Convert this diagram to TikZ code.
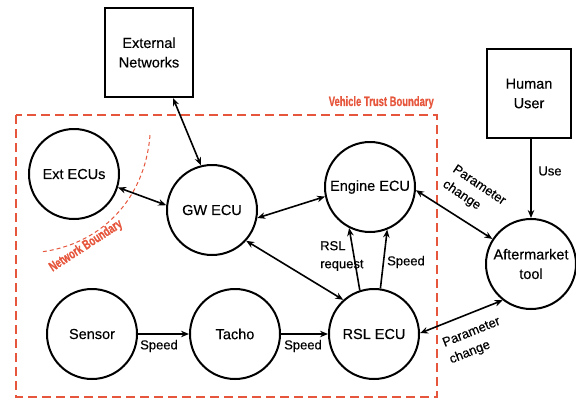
\documentclass[tikz,border=0pt]{standalone}
\usepackage{fontspec}
\setmainfont[FakeBold=0.35]{Liberation Sans}
\newfontfamily\condfont[FakeStretch=0.7,FakeBold=0.6]{Liberation Sans Bold}
\usetikzlibrary{arrows.meta}
\definecolor{bnd}{RGB}{230,86,60}
\begin{document}
\begin{tikzpicture}[x=1pt,y=-1pt,
  nodefont/.style={font=\fontsize{14.5}{19.5}\selectfont},
  ecu/.style={circle,draw,line width=2pt,minimum size=90pt,inner sep=0pt,align=center,nodefont},
  boxnode/.style={rectangle,draw,line width=2pt,align=center,nodefont,inner sep=0pt},
  conn/.style={line width=1.6pt,-{Stealth[length=8pt,width=6.5pt]}},
  biconn/.style={line width=1.6pt,{Stealth[length=8pt,width=6.5pt]}-{Stealth[length=8pt,width=6.5pt]}},
  lbl/.style={font=\fontsize{13}{18}\selectfont,inner sep=0pt},
  bndlbl/.style={font=\condfont\fontsize{13.5}{15}\selectfont,text=bnd,inner sep=0pt}
]
\useasboundingbox (0,0) rectangle (576,400);

% boundaries
\draw[bnd,line width=2.5pt,dash pattern=on 9pt off 5pt] (16,115) rectangle (437,397);
\draw[bnd,line width=1pt,dash pattern=on 4pt off 3pt] (150,135) .. controls (145,200) and (100,245) .. (40,252);
\node[bndlbl,anchor=east] (vtb) at (434,102.5) {Vehicle Trust Boundary};
\node[bndlbl,rotate=33] (nb) at (86,246) {Network Boundary};

% boxes
\node[boxnode,minimum width=88pt,minimum height=89pt] (ext) at (149,52.5) {External\\Networks};
\node[boxnode,minimum width=84pt,minimum height=89pt] (human) at (529,93.5) {Human\\User};

% circles
\node[ecu] (extecu) at (74,174) {Ext ECUs};
\node[ecu] (gw) at (212,210) {GW ECU};
\node[ecu] (eng) at (370,187) {Engine ECU};
\node[ecu] (rsl) at (374,334) {RSL ECU};
\node[ecu] (sensor) at (92,334) {Sensor};
\node[ecu] (tacho) at (235,334) {Tacho};
\node[ecu] (after) at (531,264) {Aftermarket\\tool};

% connectors
\draw[biconn] ([xshift=24pt]ext.south) -- (gw.104);
\draw[biconn] (extecu.-17) -- (gw.174);
\draw[biconn] (gw.-10) -- (eng.192);
\draw[biconn] (gw.-42) -- (rsl.132);
\draw[conn] (rsl.108) -- (eng.-117);
\draw[conn] (rsl.82) -- (eng.-68);
\draw[biconn] (eng.-4) -- (after.147);
\draw[biconn] (rsl.1) -- (after.232);
\draw[conn] (human.south -| after.north) -- (after.north);
\draw[conn] (sensor.east) -- (tacho.west);
\draw[conn] (tacho.east) -- (rsl.west);

% labels
\node[lbl,align=left,anchor=west] (lreq) at (320,256) {RSL\\request};
\node[lbl] (lspd3) at (406,262) {Speed};
\node[lbl] (luse) at (550,171) {Use};
\node[lbl] (lspd1) at (159,346) {Speed};
\node[lbl] (lspd2) at (303,346) {Speed};
\node[lbl,align=left,rotate=-34] (lpc1) at (474,193) {Parameter\\change};
\node[lbl,align=left,rotate=22] (lpc2) at (475,341) {Parameter\\change};
\end{tikzpicture}
\end{document}
